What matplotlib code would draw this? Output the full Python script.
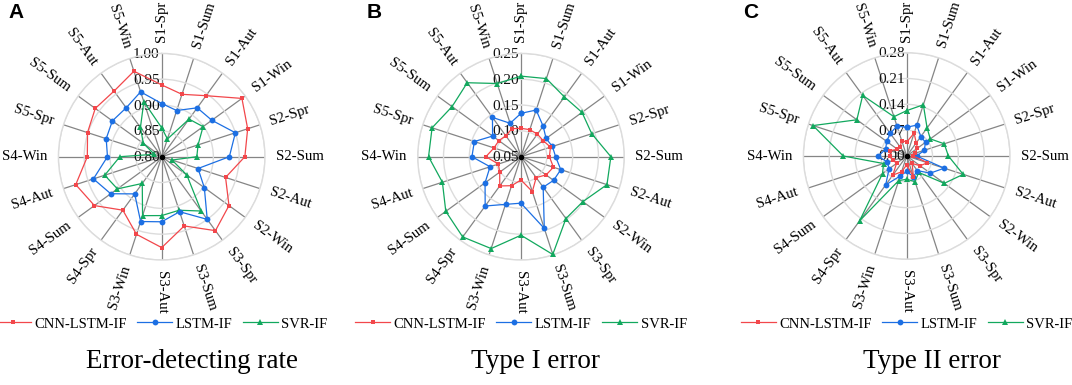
import numpy as np
import matplotlib
matplotlib.use("Agg")
import matplotlib.pyplot as plt
from matplotlib import transforms

categories = ['S1-Spr', 'S1-Sum', 'S1-Aut', 'S1-Win', 'S2-Spr', 'S2-Sum', 'S2-Aut', 'S2-Win',
              'S3-Spr', 'S3-Sum', 'S3-Aut', 'S3-Win', 'S4-Spr', 'S4-Sum', 'S4-Aut', 'S4-Win',
              'S5-Spr', 'S5-Sum', 'S5-Aut', 'S5-Win']
series_names = ['CNN-LSTM-IF', 'LSTM-IF', 'SVR-IF']

# Panel A: Error-detecting rate
rate_cnn = [0.939, 0.927, 0.946, 0.992, 0.975, 0.961, 0.930, 0.961, 0.977, 0.941,
            0.976, 0.958, 0.928, 0.961, 0.975, 0.944, 0.951, 0.959, 0.957, 0.974]
rate_lstm = [0.903, 0.894, 0.917, 0.920, 0.950, 0.931, 0.874, 0.902, 0.950, 0.912,
             0.926, 0.932, 0.889, 0.922, 0.939, 0.905, 0.913, 0.918, 0.917, 0.932]
rate_svr = [0.856, 0.836, 0.890, 0.899, 0.874, 0.868, 0.821, 0.860, 0.930, 0.909,
            0.914, 0.920, 0.864, 0.906, 0.916, 0.881, 0.815, 0.844, 0.870, 0.912]
rate_ticks = [0.80, 0.85, 0.90, 0.95, 1.00]

# Panel B: Type I error
t1_cnn = [0.105, 0.105, 0.104, 0.103, 0.110, 0.105, 0.116, 0.110, 0.100, 0.121,
          0.095, 0.109, 0.120, 0.101, 0.096, 0.118, 0.105, 0.103, 0.100, 0.107]
t1_lstm = [0.134, 0.145, 0.123, 0.110, 0.114, 0.117, 0.131, 0.128, 0.123, 0.196,
           0.140, 0.147, 0.168, 0.136, 0.113, 0.145, 0.145, 0.118, 0.144, 0.118]
t1_svr = [0.206, 0.209, 0.193, 0.196, 0.194, 0.224, 0.225, 0.198, 0.198, 0.249,
          0.202, 0.237, 0.242, 0.230, 0.210, 0.229, 0.231, 0.215, 0.227, 0.199]
t1_ticks = [0.05, 0.10, 0.15, 0.20, 0.25]

# Panel C: Type II error
t2_cnn = [0.038, 0.065, 0.044, 0.036, 0.023, 0.018, 0.059, 0.045, 0.025, 0.059,
          0.024, 0.045, 0.064, 0.034, 0.038, 0.045, 0.047, 0.031, 0.030, 0.044]
t2_lstm = [0.078, 0.088, 0.065, 0.063, 0.050, 0.027, 0.107, 0.079, 0.049, 0.059,
           0.042, 0.057, 0.097, 0.059, 0.055, 0.077, 0.060, 0.067, 0.076, 0.085]
t2_svr = [0.123, 0.146, 0.094, 0.079, 0.107, 0.113, 0.161, 0.126, 0.055, 0.073,
          0.063, 0.070, 0.217, 0.081, 0.066, 0.172, 0.267, 0.167, 0.203, 0.112]
t2_ticks = [0.00, 0.07, 0.14, 0.21, 0.28]

panel_letters = ['A', 'B', 'C']
titles = ['Error-detecting rate', 'Type I error', 'Type II error']

colors = ['#F2474B', '#1C6FE3', '#12A85E']
markers = ['s', 'o', '^']
msizes = [3.4, 4.2, 3.8]

W, H = 1072, 385
fig = plt.figure(figsize=(W / 100, H / 100), dpi=100)
SERIF = 'Liberation Serif'

centers = [(161.7, 156.7), (521.0, 156.7), (906.7, 156.0)]
R = 103.3
title_x = [192, 535, 932]
letter_x = [8, 367, 743]

panels = [
    ([rate_cnn, rate_lstm, rate_svr], rate_ticks),
    ([t1_cnn, t1_lstm, t1_svr], t1_ticks),
    ([t2_cnn, t2_lstm, t2_svr], t2_ticks),
]

n = len(categories)
angles = np.arange(n) * 2 * np.pi / n

for k, ((series, ticks), (cx, cy)) in enumerate(zip(panels, centers)):
    ax = fig.add_axes([(cx - R) / W, 1 - (cy + R) / H, 2 * R / W, 2 * R / H], projection='polar')
    ax.set_theta_zero_location('N')
    ax.set_theta_direction(-1)
    rmin, rmax = ticks[0], ticks[-1]
    ax.set_ylim(rmin, rmax)
    ax.set_xticks(angles)
    ax.set_xticklabels([])
    ax.set_yticks(ticks[1:])
    ax.set_yticklabels([])
    ax.xaxis.grid(True, color='#858585', lw=0.9)
    ax.yaxis.grid(True, color='#dcdcdc', lw=1.0)
    ax.spines['polar'].set_color('#dcdcdc')
    ax.spines['polar'].set_linewidth(1.0)
    ax.set_facecolor('none')
    ax.tick_params(pad=0, length=0)

    zs = [6, 5, 4]
    handles = []
    for vals, c, m, ms, name, z in zip(series, colors, markers, msizes, series_names, zs):
        th = np.append(angles, angles[0])
        rv = np.append(vals, vals[0])
        h, = ax.plot(th, rv, color=c, lw=0.9, marker=m, ms=ms, markeredgewidth=0,
                     label=name, zorder=z, clip_on=False)
        handles.append(h)

    # center dot
    ax.plot([0], [rmin], marker='o', ms=3, color='black', zorder=7, clip_on=False)

    # radial tick labels
    off = transforms.offset_copy(ax.transData, fig=fig, x=-2, y=-1, units='dots')
    for t in ticks:
        ax.text(0, t, f'{t:.2f}', ha='right', va='center', fontsize=11,
                family=SERIF, color='#111111', zorder=2, transform=off)

    # category labels
    rl = rmax + (rmax - rmin) * 11 / R
    for a, lab in zip(angles, categories):
        deg = np.degrees(a)
        if deg <= 180.01:
            rot, ha = 90 - deg, 'left'
        else:
            rot, ha = 270 - deg, 'right'
        ax.text(a, rl, lab, rotation=rot, rotation_mode='anchor', ha=ha, va='center',
                fontsize=10.6, family=SERIF, color='black')

    fig.legend(handles=handles, loc='center', bbox_to_anchor=(cx / W, 1 - 324 / H),
               ncol=3, frameon=False, prop={'family': SERIF, 'size': 10.5},
               handlelength=2.4, handletextpad=0.25, columnspacing=0.7, borderaxespad=0)

    fig.text(title_x[k] / W, 1 - 362 / H, titles[k], ha='center', va='center',
             fontsize=19.5, family=SERIF)
    fig.text(letter_x[k] / W, 1 - 13 / H, panel_letters[k], ha='left', va='center',
             fontsize=15, family='Liberation Sans', fontweight='bold')

fig.savefig('out.png', dpi=100)
